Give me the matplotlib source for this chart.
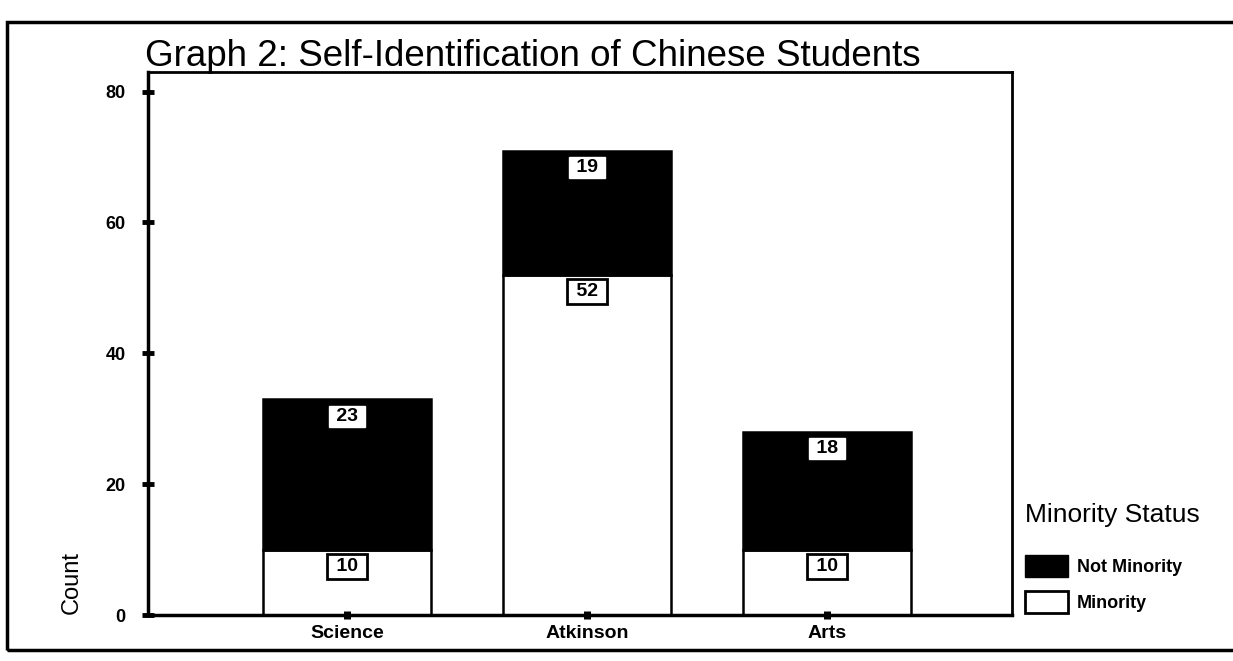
import matplotlib.pyplot as plt
from matplotlib.patches import Rectangle, Patch

plt.rcParams['font.family'] = ['Liberation Sans', 'DejaVu Sans']

faculties = ['Science', 'Atkinson', 'Arts']
minority = [10, 52, 10]
not_minority = [23, 19, 18]
yticks = [0, 20, 40, 60, 80]

fig = plt.figure(figsize=(12.33, 6.61), dpi=100)
ax = fig.add_axes([148 / 1233, 1 - 615 / 661, (1012 - 148) / 1233, (615 - 72) / 661])

# outer frame of the scanned figure
fig.patches.append(Rectangle((0.006, 0.017), 1.0, 0.95, transform=fig.transFigure,
                             fill=False, edgecolor='black', linewidth=2.5))

x = range(len(faculties))
ax.bar(x, minority, width=0.7, color='white', edgecolor='black', linewidth=1.8)
ax.bar(x, not_minority, width=0.7, bottom=minority, color='black', edgecolor='black', linewidth=1.8)

for i in x:
    ax.text(i, minority[i] - 2.6, ' ' + str(minority[i]) + ' ', ha='center', va='center', fontsize=14,
            fontweight='bold',
            bbox=dict(boxstyle='square,pad=0.2', facecolor='white', edgecolor='black', linewidth=2))
    top = minority[i] + not_minority[i]
    ax.text(i, top - 2.6, ' ' + str(not_minority[i]) + ' ', ha='center', va='center', fontsize=14,
            fontweight='bold',
            bbox=dict(boxstyle='square,pad=0.1', facecolor='white', edgecolor='white', linewidth=1))

ax.set_xlim(-0.83, 2.77)
ax.set_ylim(0, 83)
ax.set_yticks(yticks)
ax.set_xticks(list(x))
ax.set_xticklabels(faculties, fontsize=14, fontweight='bold')
ax.set_yticklabels([str(v) for v in yticks], fontsize=13, fontweight='bold')
ax.tick_params(axis='y', direction='inout', length=8, width=3.5, pad=12)
ax.tick_params(axis='x', direction='inout', length=6, width=5, pad=4)
for s in ax.spines.values():
    s.set_linewidth(2)
ax.spines['left'].set_linewidth(2.5)
ax.spines['bottom'].set_linewidth(2.5)

ax.set_ylabel('Count', fontsize=17)
ax.yaxis.set_label_coords(-0.076, 0.06)

fig.text(145 / 1233, 1 - 56 / 661, 'Graph 2: Self-Identification of Chinese Students',
         fontsize=26.5, va='center', ha='left')

handles = [Patch(facecolor='black', edgecolor='black', label='Not Minority'),
           Patch(facecolor='white', edgecolor='black', linewidth=2, label='Minority')]
leg = ax.legend(handles=handles, title='Minority Status', loc='lower left',
                bbox_to_anchor=(1.0, -0.02), frameon=False,
                prop={'size': 13, 'weight': 'bold'}, title_fontsize=19,
                handlelength=2.4, handleheight=1.5, labelspacing=0.8, handletextpad=0.5,
                borderpad=0.2)
leg._legend_box.align = 'left'
leg._legend_box.sep = 20

fig.savefig('out.png', dpi=100)
